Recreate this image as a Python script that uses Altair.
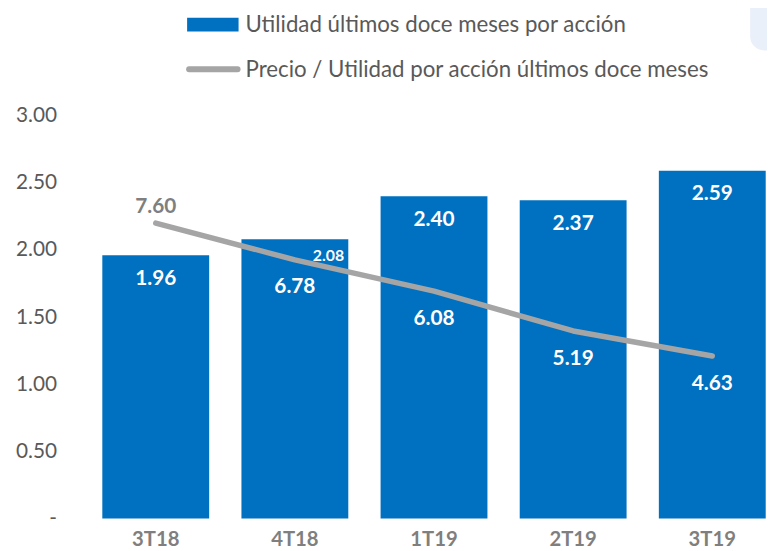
import altair as alt
import pandas as pd

periodos = ["3T18", "4T18", "1T19", "2T19", "3T19"]
utilidad = [1.96, 2.08, 2.40, 2.37, 2.59]
precio_utilidad = [7.60, 6.78, 6.08, 5.19, 4.63]
serie_barras = "Utilidad últimos doce meses por acción"
serie_linea = "Precio / Utilidad por acción últimos doce meses"
y_ticks = [0, 0.5, 1.0, 1.5, 2.0, 2.5, 3.0]

df = pd.DataFrame({"periodo": periodos, "utilidad": utilidad, "pu": precio_utilidad})

FONT = "Lato"
BLUE = "#0070C0"
GRAY = "#A5A5A5"
TXT = "#595959"

x = alt.X(
    "periodo:N", sort=periodos, title=None,
    scale=alt.Scale(range=[0, 703], paddingInner=0.232, paddingOuter=0.116),
    axis=alt.Axis(labelAngle=0, labelFont=FONT, labelFontWeight="bold", labelFontSize=20.5,
                  labelColor="#7F7F7F", ticks=False, domain=False, labelPadding=11),
)
y_axis = alt.Y(
    "utilidad:Q", title=None,
    scale=alt.Scale(domain=[0, 3], nice=False, zero=True),
    axis=alt.Axis(values=y_ticks, labelExpr="datum.value == 0 ? '-' : format(datum.value, '.2f')",
                  grid=False, ticks=False, domain=False, labelFont=FONT, labelFontSize=21,
                  labelColor=TXT, labelPadding=30),
)
y_left = alt.Y("utilidad:Q", scale=alt.Scale(domain=[0, 3], nice=False, zero=True), axis=None)
y_right = alt.Y("pu:Q", scale=alt.Scale(domain=[1, 10], nice=False, zero=False), axis=None)

base = alt.Chart(df)

bars = base.mark_bar(color=BLUE).encode(x=x, y=y_axis)

bar_labels = base.transform_filter("datum.periodo != '4T18'").mark_text(
    dy=24, color="white", fontWeight="bold", fontSize=21, font=FONT, baseline="middle"
).encode(x=x, y=y_left, text=alt.Text("utilidad:Q", format=".2f"))

bar_label_small = base.transform_filter("datum.periodo == '4T18'").mark_text(
    dx=34, dy=17, color="white", fontWeight="bold", fontSize=16, font=FONT, baseline="middle"
).encode(x=x, y=y_left, text=alt.Text("utilidad:Q", format=".2f"))

line = base.mark_line(color=GRAY, strokeWidth=5.5, strokeCap="round", strokeJoin="round").encode(
    x=x, y=y_right
)

line_label_first = base.transform_filter("datum.periodo == '3T18'").mark_text(
    dy=-16, color="#7F7F7F", fontWeight="bold", fontSize=21, font=FONT, baseline="middle"
).encode(x=x, y=y_right, text=alt.Text("pu:Q", format=".2f"))

line_labels_rest = base.transform_filter("datum.periodo != '3T18'").mark_text(
    dy=28, color="white", fontWeight="bold", fontSize=21, font=FONT, baseline="middle"
).encode(x=x, y=y_right, text=alt.Text("pu:Q", format=".2f"))

# legend (drawn manually)
leg1 = pd.DataFrame({"t": [serie_barras]})
leg2 = pd.DataFrame({"t": [serie_linea]})

leg_rect = alt.Chart(leg1).mark_rect(color=BLUE).encode(
    x=alt.value(102), x2=alt.value(154), y=alt.value(-99), y2=alt.value(-85)
)
leg_text1 = alt.Chart(leg1).mark_text(
    align="left", baseline="middle", fontSize=22.5, font=FONT, color=TXT
).encode(x=alt.value(161), y=alt.value(-92), text="t:N")
leg_rule = alt.Chart(leg2).mark_rule(color=GRAY, strokeWidth=6, strokeCap="round").encode(
    x=alt.value(104), x2=alt.value(153), y=alt.value(-47)
)
leg_text2 = alt.Chart(leg2).mark_text(
    align="left", baseline="middle", fontSize=22.5, font=FONT, color=TXT
).encode(x=alt.value(161), y=alt.value(-46), text="t:N")

deco = alt.Chart(leg1).mark_rect(color="#EAF0F9", cornerRadius=14).encode(
    x=alt.value(671), x2=alt.value(730), y=alt.value(-140), y2=alt.value(-66)
)

chart = alt.layer(
    deco, bars, bar_labels, bar_label_small, line, line_label_first, line_labels_rest,
    leg_rect, leg_text1, leg_rule, leg_text2,
).resolve_scale(y="independent").properties(
    width=688, height=407,
    padding={"left": 79, "top": 106, "right": 0, "bottom": 30},
    autosize=alt.AutoSizeParams(type="none"),
).configure(background="white").configure_view(stroke=None)

chart.save("out.html", embed_options={"renderer": "svg", "actions": False})
